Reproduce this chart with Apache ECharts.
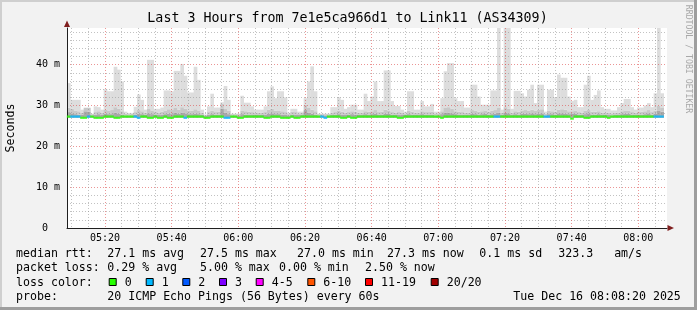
<!DOCTYPE html>
<html><head><meta charset="utf-8">
<script src="https://cdn.jsdelivr.net/npm/echarts@6/dist/echarts.min.js"></script>
<style>html,body{margin:0;padding:0;background:#f2f2f2}#c{width:697px;height:310px}</style>
</head><body><div id="c"></div>
<script>
// ---------------- data ----------------
const titleText = 'Last 3 Hours from 7e1e5ca966d1 to Link11 (AS34309)';
const startTime = '05:08:36';   // left edge of the graph
const endTime = '08:08:36';     // right edge of the graph
const stepMinutes = 1;          // one probe round every 60 s
const yMax = 49;
const smokeFloor = 27.0;        // fastest ping (ms)

// slowest ping per minute (ms) - top of light smoke
const rttMax = [
 35.5,31.4,31.4,31.4,29.0,29.5,29.5,28.0,29.8,29.6,
 29.0,34.0,33.5,33.5,39.5,38.8,35.9,28.5,28.2,28.2,
 29.7,32.7,31.4,29.0,41.2,41.2,29.2,29.2,29.5,33.7,
 33.7,33.5,38.5,38.5,40.2,37.3,33.2,33.2,39.5,36.3,
 29.0,27.8,29.8,32.9,29.5,29.5,30.8,34.8,31.4,28.0,
 28.0,28.0,32.4,30.7,30.7,29.8,29.0,29.0,29.0,29.8,
 33.5,34.7,31.8,33.5,33.5,32.0,28.2,29.2,29.2,28.5,
 28.5,31.8,35.9,39.6,33.5,28.0,28.0,28.0,28.0,29.6,
 29.6,32.0,31.4,29.2,29.6,30.2,30.2,29.0,29.0,32.9,
 31.1,32.2,35.9,31.1,31.1,38.6,38.6,31.1,29.9,29.9,
 29.0,28.5,33.5,33.5,29.0,29.0,31.1,29.8,29.8,30.4,
 28.5,28.5,31.8,38.4,40.4,40.4,31.8,31.1,31.1,29.5,
 29.5,35.1,35.1,32.2,30.2,30.2,30.2,33.7,33.7,49.0,
 29.0,49.0,49.0,29.2,33.6,33.6,33.0,32.2,33.9,35.1,
 30.6,35.1,35.1,28.5,33.9,33.9,32.0,37.6,36.8,36.8,
 32.2,31.1,31.4,29.6,29.6,35.1,37.3,31.4,32.6,33.7,
 29.6,29.2,29.2,28.8,28.8,29.6,30.6,31.6,31.6,29.6,
 29.0,29.5,29.5,30.0,30.6,29.6,33.0,49.0,33.0
];
// top of the medium smoke band (ms)
const rttMid = [
 29.5,29.2,28.8,28.6,28.2,29.4,29.4,27.9,28.4,28.6,
 28.3,29.0,28.8,28.9,29.6,29.2,28.6,28.0,27.9,28.0,
 28.4,28.9,28.6,28.2,29.3,28.8,28.4,28.3,28.5,28.8,
 29.1,28.9,29.4,29.0,29.6,29.2,28.8,28.7,29.1,28.8,
 28.2,27.7,28.4,28.7,28.4,28.5,30.5,29.3,28.7,27.9,
 27.9,27.9,28.8,28.6,28.5,28.4,28.2,28.3,28.2,28.4,
 29.0,29.2,28.7,28.8,28.6,28.4,27.9,28.5,28.4,28.1,
 28.2,30.2,29.4,29.0,28.6,27.9,27.9,27.9,27.9,28.3,
 28.4,28.7,28.5,28.3,28.4,28.6,28.5,28.2,28.3,28.6,
 28.5,28.6,28.9,28.4,28.5,29.0,28.8,28.4,28.3,28.4,
 28.2,28.1,28.7,28.5,28.2,28.3,28.6,28.4,28.4,28.5,
 28.1,28.1,28.6,29.4,29.6,29.2,28.6,28.5,28.4,28.3,
 28.2,28.9,28.7,28.5,28.6,28.8,28.5,28.7,28.9,29.4,
 28.2,29.6,29.2,28.3,28.6,28.5,28.8,28.9,28.7,29.0,
 28.7,29.0,29.1,28.0,28.7,28.6,28.5,29.0,29.1,29.0,
 28.6,28.6,28.8,28.4,28.3,28.7,28.9,28.5,28.5,28.6,
 28.3,28.2,28.2,28.1,28.2,28.3,28.6,28.8,28.7,28.4,
 28.3,28.4,28.5,28.6,28.9,28.4,28.7,30.0,29.4
];
// top of the dark smoke core (ms)
const rttDark = [
 28.4,28.1,27.9,27.8,27.7,28.6,28.5,27.6,27.8,27.9,
 27.7,28.0,27.9,27.9,28.2,28.0,27.8,27.6,27.6,27.6,
 27.8,28.0,27.9,27.7,28.1,27.9,27.7,27.7,27.8,27.9,
 28.0,27.9,28.2,28.0,28.3,28.1,27.9,27.9,28.0,27.9,
 27.7,27.5,27.8,27.9,27.8,27.8,29.2,28.2,27.9,27.6,
 27.6,27.6,27.9,27.8,27.8,27.7,27.7,27.7,27.7,27.8,
 28.0,28.1,27.9,27.9,27.8,27.7,27.6,27.8,27.8,27.7,
 27.7,28.9,28.3,28.0,27.8,27.6,27.6,27.6,27.6,27.7,
 27.8,27.9,27.8,27.7,27.8,27.9,27.8,27.7,27.7,27.9,
 27.8,27.9,28.0,27.8,27.8,28.0,28.0,27.8,27.7,27.8,
 27.7,27.7,27.9,27.8,27.7,27.7,27.9,27.8,27.8,27.8,
 27.6,27.6,27.9,28.2,28.3,28.1,27.9,27.8,27.8,27.7,
 27.7,28.0,27.9,27.8,27.9,28.0,27.8,27.9,28.0,28.2,
 27.7,28.3,28.1,27.7,27.9,27.8,28.0,28.0,27.9,28.1,
 27.9,28.0,28.1,27.6,27.9,27.9,27.8,28.1,28.1,28.0,
 27.9,28.0,28.0,27.8,27.7,27.9,28.1,27.8,27.8,27.9,
 27.7,27.7,27.7,27.6,27.7,27.7,27.9,28.0,28.0,27.8,
 27.7,27.8,27.8,27.9,28.1,27.8,28.0,28.8,28.5
];
// median rtt per minute (ms)
const rttMedian = [
 27.3,27.3,27.3,27.3,27.0,27.0,27.3,27.3,27.0,27.0,
 27.0,27.3,27.3,27.3,27.0,27.0,27.3,27.3,27.3,27.3,
 27.3,27.0,27.3,27.3,27.0,27.0,27.3,27.0,27.0,27.3,
 27.0,27.0,27.3,27.3,27.3,27.0,27.3,27.3,27.3,27.3,
 27.3,27.0,27.0,27.3,27.3,27.3,27.3,27.0,27.0,27.3,
 27.3,27.0,27.0,27.3,27.3,27.3,27.3,27.3,27.3,27.0,
 27.0,27.3,27.3,27.3,27.0,27.0,27.0,27.3,27.0,27.0,
 27.3,27.3,27.3,27.3,27.3,27.3,27.3,27.0,27.3,27.3,
 27.3,27.3,27.0,27.0,27.3,27.0,27.0,27.3,27.3,27.3,
 27.3,27.3,27.3,27.3,27.3,27.3,27.3,27.3,27.3,27.0,
 27.0,27.3,27.3,27.3,27.3,27.3,27.3,27.3,27.3,27.3,
 27.3,27.3,27.0,27.3,27.3,27.3,27.3,27.3,27.3,27.3,
 27.3,27.3,27.3,27.3,27.3,27.3,27.3,27.3,27.3,27.3,
 27.3,27.3,27.3,27.3,27.3,27.3,27.3,27.3,27.3,27.3,
 27.3,27.3,27.3,27.3,27.3,27.3,27.3,27.3,27.3,27.3,
 27.3,26.8,27.3,27.3,27.3,27.0,27.0,27.3,27.3,27.3,
 27.3,27.3,27.0,27.3,27.3,27.3,27.3,27.3,27.3,27.3,
 27.3,27.3,27.3,27.3,27.3,27.3,27.3,27.3,27.3
];
// lost pings (of 20) per minute
const lossCount = [
 0,1,1,1,0,0,1,0,0,0, 0,0,0,0,0,0,0,0,0,0,
 1,1,0,0,0,0,0,0,0,0, 0,0,0,0,0,1,0,0,0,0,
 0,0,0,0,0,0,0,1,1,0, 0,0,0,0,0,0,0,0,0,0,
 0,0,0,0,0,0,0,0,0,0, 0,0,0,0,0,0,1,1,0,0,
 0,0,0,0,0,0,0,0,0,0, 0,0,0,0,0,0,0,0,0,0,
 0,0,0,0,0,0,0,0,0,0, 0,0,0,0,0,0,0,0,0,0,
 0,0,0,0,0,0,0,0,1,1, 0,0,0,0,0,0,0,0,0,0,
 0,0,0,1,1,0,0,0,0,0, 0,0,0,0,0,0,0,0,0,0,
 0,0,0,0,0,0,0,0,0,0, 0,0,0,0,0,0,1,1,1
];
const lossLabels = ['0','1','2','3','4-5','6-10','11-19','20/20'];
const lossColors = ['#26ff00','#00b8ff','#0059ff','#7e00ff','#ff00ff','#ff5500','#ff0000','#a10000'];

const legendRows = [
  [['median rtt:',16],['27.1 ms avg',107.3],['27.5 ms max',200],['27.0 ms min',297],['27.3 ms now',387],['0.1 ms sd',479.3],['323.3   am/s',558.3]],
  [['packet loss:',16],['0.29 % avg',107.3],['5.00 % max',200],['0.00 % min',279],['2.50 % now',365]],
  [['loss color:',16]],
  [['probe:',16],['20 ICMP Echo Pings (56 Bytes) every 60s',107.3],['Tue Dec 16 08:08:20 2025',513.3]]
];
const legendBoxX = [108.7,145.7,182.3,219,255.7,307.3,365,430.7];
const sideText = 'RRDTOOL / TOBI OETIKER';

// ---------------- chart ----------------
const FONT = 'DejaVu Sans Mono';
function toMin(s){const p=s.split(':').map(Number);return p[0]*60+p[1]+(p[2]||0)/60;}
const t0 = toMin(startTime), t1 = toMin(endTime);
const xs = rttMax.map((_, i) => t0 + (i + 0.5) * stepMinutes);
function hhmm(v){const m=Math.round(v);const h=Math.floor(m/60),mm=m%60;return String(h).padStart(2,'0')+':'+String(mm).padStart(2,'0');}
function bucket(n){if(n<=3)return n;if(n<=5)return 4;if(n<=10)return 5;if(n<=19)return 6;return 7;}

const G = {left:67, right:30, top:28, bottom:82};
const W = 697, H = 310;

const smokeData = xs.map((x,i)=>[x, smokeFloor, rttDark[i], rttMid[i], rttMax[i]]);
const medianPts = xs.map((x,i)=>[x, rttMedian[i], lossCount[i]]);
const smokeColors = ['#a8a8a8','#c8c8c8','#dddddd'];

function renderSmoke(params, api){
  const x = api.value(0);
  const xl = api.coord([x - stepMinutes/2, 0])[0];
  const xr = api.coord([x + stepMinutes/2, 0])[0];
  const levels = [api.value(1), api.value(2), api.value(3), api.value(4)];
  const children = [];
  for (let k = 0; k < 3; k++) {
    const yb = api.coord([x, levels[k]])[1];
    const yt = api.coord([x, levels[k+1]])[1];
    if (yb - yt <= 0) continue;
    children.push({type:'rect', shape:{x:xl, y:yt, width:xr-xl+0.35, height:yb-yt}, style:{fill:smokeColors[k]}});
  }
  return {type:'group', children};
}

const graphics = [
  {type:'rect', z:-100, shape:{x:G.left,y:G.top,width:W-G.left-G.right,height:H-G.top-G.bottom}, style:{fill:'#ffffff'}},
  {type:'rect', shape:{x:0,y:0,width:W,height:2}, style:{fill:'#cfcfcf'}},
  {type:'rect', shape:{x:0,y:0,width:2,height:H}, style:{fill:'#cfcfcf'}},
  {type:'rect', shape:{x:W-3,y:0,width:3,height:H}, style:{fill:'#9e9e9e'}},
  {type:'rect', shape:{x:0,y:H-3,width:W,height:3}, style:{fill:'#9e9e9e'}},
  {type:'polygon', z:10, shape:{points:[[67,20.5],[64,27],[70,27]]}, style:{fill:'#801f1f'}},
  {type:'polygon', z:10, shape:{points:[[674,228],[667.5,225],[667.5,231]]}, style:{fill:'#801f1f'}},
  {type:'text', x:347.5, y:18.5, style:{text:titleText, font:'13.3px "'+FONT+'"', fill:'#000', align:'center', verticalAlign:'middle'}},
  {type:'text', x:688, y:59, rotation:-Math.PI/2, style:{text:sideText, font:'8.2px "'+FONT+'"', fill:'#a8a8a8', align:'center', verticalAlign:'middle'}}
];
const rowY = [254.3, 268.3, 282.6, 296.5];
legendRows.forEach((row, r) => row.forEach(([t, x]) => {
  graphics.push({type:'text', x:x, y:rowY[r], style:{text:t, font:'11.6px "'+FONT+'"', fill:'#000', align:'left', verticalAlign:'middle'}});
}));
lossLabels.forEach((lab, k) => {
  const bx = legendBoxX[k];
  graphics.push({type:'rect', shape:{x:bx+0.5,y:278.5,width:7,height:7}, style:{fill:lossColors[k], stroke:'#000', lineWidth:1}});
  graphics.push({type:'text', x:bx+16, y:rowY[2], style:{text:lab, font:'11.6px "'+FONT+'"', fill:'#000', align:'left', verticalAlign:'middle'}});
});

const chart = echarts.init(document.getElementById('c'), null, {renderer:'canvas'});
chart.setOption({
  animation:false,
  backgroundColor:'#f2f2f2',
  grid:{left:G.left, right:G.right, top:G.top, bottom:G.bottom, show:false, containLabel:false, outerBoundsMode:'none'},
  xAxis:{
    type:'value', min:t0, max:t1, minInterval:20, maxInterval:20, splitNumber:9,
    axisLine:{show:true, onZero:false, lineStyle:{color:'#1f1f1f', width:1}},
    axisTick:{show:false},
    axisLabel:{formatter:hhmm, showMinLabel:false, showMaxLabel:false, fontFamily:FONT, fontSize:10, color:'#000', margin:5},
    splitLine:{show:true, showMinLine:false, showMaxLine:false, lineStyle:{color:'rgba(222,79,79,0.6)', type:[1,2], width:1}},
    minorTick:{show:false, splitNumber:4},
    minorSplitLine:{show:true, lineStyle:{color:'rgba(143,143,143,0.55)', type:[1,2], width:1}}
  },
  yAxis:{
    type:'value', min:0, max:yMax, interval:10,
    name:'Seconds', nameLocation:'middle', nameGap:50, nameRotate:90,
    nameTextStyle:{fontFamily:FONT, fontSize:11.6, color:'#000'},
    axisLine:{show:true, onZero:false, lineStyle:{color:'#1f1f1f', width:1}},
    axisTick:{show:false},
    axisLabel:{formatter:v=> v===0 ? '0  ' : v+' m', showMaxLabel:false, fontFamily:FONT, fontSize:10, color:'#000', margin:7},
    splitLine:{show:true, showMinLine:false, showMaxLine:false, lineStyle:{color:'rgba(222,79,79,0.6)', type:[1,2], width:1}},
    minorTick:{show:false, splitNumber:5},
    minorSplitLine:{show:true, lineStyle:{color:'rgba(143,143,143,0.55)', type:[1,2], width:1}}
  },
  series:[
    {name:'smoke', type:'custom', data:smokeData, renderItem:renderSmoke, encode:{x:0, y:[1,4]}, z:-1, silent:true, clip:true},
    {name:'median', type:'scatter', data:medianPts, symbol:'rect', symbolSize:[3.7,2.2], z:5, silent:true,
     itemStyle:{color:p=>lossColors[bucket(p.value[2])]}}
  ],
  graphic:{elements:graphics}
});
</script>
</body></html>
